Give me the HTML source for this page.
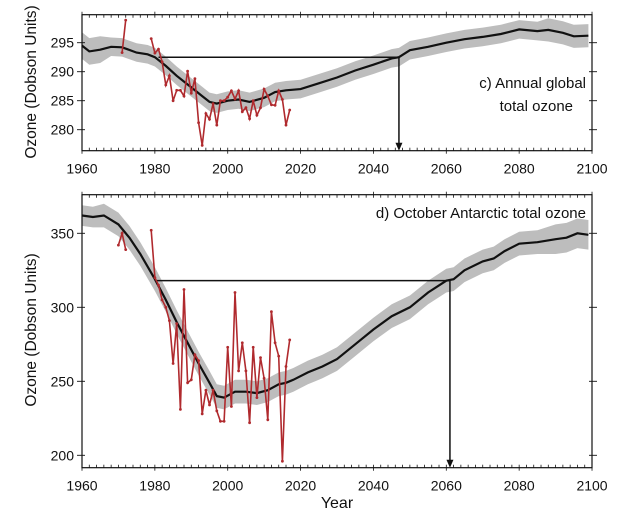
<!DOCTYPE html>
<html><head><meta charset="utf-8"><style>
html,body{margin:0;padding:0;background:#fff;}
svg{display:block;}
text{font-family:"Liberation Sans",sans-serif;fill:#111;}
</style></head><body>
<svg id="s" width="640" height="514" viewBox="0 0 640 514" xmlns="http://www.w3.org/2000/svg"></svg>
<script>
const S=document.getElementById('s');let h='';
const X=y=>82+(y-1960)*3.643;
function panel(top,bot,Y,ticks,black,band1,band2,red,hl,ylabY){
  // band
  let up=black.map((p,i)=>X(p[0]).toFixed(1)+','+Y(p[1]+band1(p[0])).toFixed(1));
  let dn=black.slice().reverse().map(p=>X(p[0]).toFixed(1)+','+Y(p[1]-band2(p[0])).toFixed(1));
  h+=`<polygon points="${up.join(' ')} ${dn.join(' ')}" fill="#bdbdbd"/>`;
  h+=`<polyline points="${black.map(p=>X(p[0]).toFixed(1)+','+Y(p[1]).toFixed(1)).join(' ')}" fill="none" stroke="#111" stroke-width="2.2"/>`;
  // hline and arrow
  h+=`<line x1="${X(hl[0])}" y1="${Y(hl[2])}" x2="${X(hl[1])}" y2="${Y(hl[2])}" stroke="#111" stroke-width="1.5"/>`;
  h+=`<line x1="${X(hl[1])}" y1="${Y(hl[2])}" x2="${X(hl[1])}" y2="${bot-6}" stroke="#111" stroke-width="1.5"/>`;
  h+=`<polygon points="${X(hl[1])-3.5},${bot-8} ${X(hl[1])+3.5},${bot-8} ${X(hl[1])},${bot}" fill="#111"/>`;
  // red
  red.forEach(seg=>{
    h+=`<polyline points="${seg.map(p=>X(p[0]).toFixed(1)+','+Y(p[1]).toFixed(1)).join(' ')}" fill="none" stroke="#b02a2e" stroke-width="1.6"/>`;
    seg.forEach(p=>h+=`<circle cx="${X(p[0]).toFixed(1)}" cy="${Y(p[1]).toFixed(1)}" r="1.4" fill="#b02a2e"/>`);
  });
  // frame
  h+=`<rect x="82" y="${top}" width="510" height="${bot-top}" fill="none" stroke="#111" stroke-width="1.2"/>`;
  for(let y=1960;y<=2100;y+=2){
    let x=X(y);let maj=(y%20==0);
    h+=`<line x1="${x}" y1="${top-(maj?3:0)}" x2="${x}" y2="${top+3}" stroke="#111" stroke-width="0.8"/>`;
    h+=`<line x1="${x}" y1="${bot+(maj?3:0)}" x2="${x}" y2="${bot-3}" stroke="#111" stroke-width="0.8"/>`;
    if(maj) h+=`<text x="${x}" y="${bot+23}" font-size="14" text-anchor="middle">${y}</text>`;
  }
  ticks.forEach(v=>{let y=Y(v);
    h+=`<line x1="77" y1="${y}" x2="85" y2="${y}" stroke="#111" stroke-width="0.9"/>`;
    h+=`<line x1="589" y1="${y}" x2="597" y2="${y}" stroke="#111" stroke-width="0.9"/>`;
    h+=`<text x="74" y="${y+5}" font-size="14" text-anchor="end">${v}</text>`;});
  h+=`<text transform="translate(36,${ylabY}) rotate(-90)" font-size="15.5" text-anchor="middle">Ozone (Dobson Units)</text>`;
}
const Y1=v=>42.7+(295-v)*5.8;
const b1=[[1960,294.5],[1962,293.5],[1965,293.8],[1968,294.3],[1971,294.2],[1975,293.3],[1978,293],[1980,292.5],[1983,291],[1986,289.3],[1990,287.3],[1993,285.8],[1995,284.8],[1997,284.5],[2000,285],[2003,285.2],[2006,284.8],[2010,285.5],[2013,286.5],[2016,286.8],[2020,287],[2025,288],[2030,289],[2035,290.2],[2040,291.2],[2045,292.3],[2047,292.5],[2050,293.7],[2055,294.3],[2060,295],[2065,295.6],[2070,296],[2075,296.5],[2080,297.3],[2085,297],[2088,297.2],[2092,296.7],[2095,296.1],[2099,296.2]];
const r1=[[[1971,293.3],[1972,298.9]],[[1979,295.7],[1980,293.2],[1981,293.9],[1982,291.7],[1983,287.7],[1984,289.3],[1985,285],[1986,286.8],[1987,286.8],[1988,285.8],[1989,290.1],[1990,286.3],[1991,288.8],[1992,281.2],[1993,277.3],[1994,282.8],[1995,281.8],[1996,284.5],[1997,280.8],[1998,285],[1999,285],[2000,285.6],[2001,286.7],[2002,285.3],[2003,286.7],[2004,283.1],[2005,283.8],[2006,281.9],[2007,285],[2008,282.5],[2009,283.8],[2010,287],[2011,285.8],[2012,284.3],[2013,284.2],[2014,286.7],[2015,285.2],[2016,280.8],[2017,283.4]]];
const w1=y=>y<1966?2.3:(y>2085?2.0:1.6);
panel(14.7,150.7,Y1,[295,290,285,280],b1,w1,w1,r1,[1981,2047,292.5],82);
h+=`<text x="586" y="88" font-size="15" text-anchor="end">c) Annual global</text>`;
h+=`<text x="573" y="111" font-size="15" text-anchor="end">total ozone</text>`;
const Y2=v=>233.3+(350-v)*1.48;
const b2=[[1960,362],[1963,361],[1966,362],[1970,356],[1973,347],[1976,336],[1980,319],[1983,305],[1986,290],[1989,276],[1992,262],[1995,249],[1997,240],[1999,239],[2002,243],[2005,243],[2008,242],[2011,244],[2014,248],[2016,249],[2018,251],[2022,256],[2026,260],[2030,265],[2035,275],[2040,285],[2045,294],[2050,300],[2055,310],[2060,318],[2062,319],[2065,325],[2070,331],[2073,333],[2076,338],[2080,343],[2085,344],[2090,346],[2093,347],[2096,350],[2099,349]];
const r2=[[[1970,342],[1971,350],[1972,339]],[[1979,352],[1980,320],[1981,315],[1982,305],[1983,300],[1984,291],[1985,262],[1986,289],[1987,231],[1988,312],[1989,249],[1990,251],[1991,268],[1992,264],[1993,228],[1994,244],[1995,234],[1996,244],[1997,230],[1998,223],[1999,223],[2000,273],[2001,233],[2002,310],[2003,257],[2004,276],[2005,257],[2006,222],[2007,273],[2008,239],[2009,266],[2010,252],[2011,224],[2012,297],[2013,276],[2014,267],[2015,196],[2016,260],[2017,278]]];
const w2=y=>y>2085?10:(y<1966?7:8);
panel(194.7,467.7,Y2,[350,300,250,200],b2,w2,w2,r2,[1980,2061,318],330);
h+=`<text x="586" y="218" font-size="15" text-anchor="end">d) October Antarctic total ozone</text>`;
h+=`<text x="337" y="508" font-size="16" text-anchor="middle">Year</text>`;
S.innerHTML=h;
</script>
</body></html>
